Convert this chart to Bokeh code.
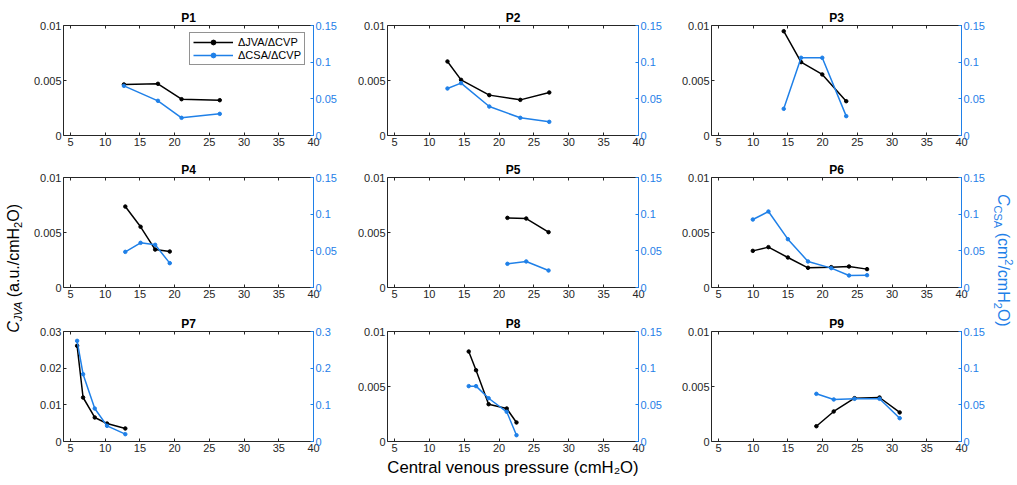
from bokeh.plotting import figure
from bokeh.models import (Range1d, LinearAxis, FixedTicker, CustomJSTickFormatter,
                          CustomLabelingPolicy, Legend, LegendItem, Div)
from bokeh.layouts import row, column
from bokeh.embed import file_html
from bokeh.resources import INLINE

# ---------------- data ----------------
titles = ["P1", "P2", "P3", "P4", "P5", "P6", "P7", "P8", "P9"]

p1_cvp = [12.7, 17.6, 21.0, 26.5]
p1_jva = [0.00464, 0.00470, 0.00330, 0.00321]
p1_csa = [0.0677, 0.0473, 0.0241, 0.0295]

p2_cvp = [12.6, 14.55, 18.6, 23.05, 27.2]
p2_jva = [0.00673, 0.00506, 0.00367, 0.00324, 0.00391]
p2_csa = [0.0641, 0.0714, 0.0395, 0.0241, 0.0186]

p3_cvp = [14.4, 16.9, 19.95, 23.4]
p3_jva = [0.00948, 0.00667, 0.00555, 0.00312]
p3_csa = [0.0364, 0.106, 0.106, 0.0264]

p4_cvp = [12.9, 15.1, 17.2, 19.3]
p4_jva = [0.00736, 0.00552, 0.00345, 0.00327]
p4_csa = [0.0486, 0.0609, 0.0582, 0.0332]

p5_cvp = [21.2, 23.9, 27.1]
p5_jva = [0.00633, 0.00627, 0.00503]
p5_csa = [0.0323, 0.0355, 0.0232]

p6_cvp = [9.95, 12.2, 15.0, 17.9, 21.25, 23.8, 26.4]
p6_jva = [0.00333, 0.00367, 0.00273, 0.00179, 0.00185, 0.00191, 0.00167]
p6_csa = [0.0927, 0.1036, 0.0659, 0.0355, 0.0264, 0.0164, 0.0168]

p7_cvp = [5.96, 6.82, 8.5, 10.27, 12.9]
p7_jva = [0.0261, 0.0120, 0.00655, 0.0049, 0.00355]
p7_csa = [0.2745, 0.1836, 0.090, 0.0427, 0.020]

p8_cvp = [15.65, 16.7, 18.5, 21.1, 22.5]
p8_jva = [0.00818, 0.00648, 0.00339, 0.00300, 0.00173]
p8_csa = [0.0755, 0.0755, 0.059, 0.0405, 0.0086]

p9_cvp = [19.1, 21.6, 24.6, 28.2, 31.1]
p9_jva = [0.00139, 0.00273, 0.00394, 0.00400, 0.00264]
p9_csa = [0.065, 0.0573, 0.0582, 0.0582, 0.0318]

cvp_all = [p1_cvp, p2_cvp, p3_cvp, p4_cvp, p5_cvp, p6_cvp, p7_cvp, p8_cvp, p9_cvp]
jva_all = [p1_jva, p2_jva, p3_jva, p4_jva, p5_jva, p6_jva, p7_jva, p8_jva, p9_jva]
csa_all = [p1_csa, p2_csa, p3_csa, p4_csa, p5_csa, p6_csa, p7_csa, p8_csa, p9_csa]

x_ticks = [5, 10, 15, 20, 25, 30, 35, 40]
left_ticks_std = [0, 0.005, 0.01]
right_ticks_std = [0, 0.05, 0.1, 0.15]
left_ticks_p7 = [0, 0.01, 0.02, 0.03]
right_ticks_p7 = [0, 0.1, 0.2, 0.3]

x_label = "Central venous pressure (cmH\u2082O)"
legend_labels = ["\u0394JVA/\u0394CVP", "\u0394CSA/\u0394CVP"]

# ---------------- style ----------------
FONT = "Liberation Sans"
DARK = "#262626"
BLUE = "#1f80e8"
BLACK = "#000000"

col_border_l = [35, 42, 41]
col_frame_w = [250, 251, 250]
col_border_r = [32, 32, 28]
row_border_t = [25, 22, 24]
row_border_b = [20, 20, 40]
FRAME_H = 110

fmt = CustomJSTickFormatter(code="return tick.toString();")
no_labels = CustomLabelingPolicy(code="return [];")


def style_axis(ax, color, ticks, show_labels=True):
    ax.ticker = FixedTicker(ticks=ticks)
    ax.axis_line_color = color
    ax.major_tick_line_color = color
    ax.minor_tick_line_color = None
    ax.major_tick_in = 3
    ax.major_tick_out = 0
    ax.major_label_text_color = color
    ax.major_label_text_font = FONT
    ax.major_label_text_font_size = "11px"
    ax.major_label_standoff = 2
    if not show_labels:
        ax.major_label_policy = no_labels
        ax.major_label_text_font_size = "0px"
        ax.major_label_standoff = 0


def make_panel(i):
    r, c = divmod(i, 3)
    lt = left_ticks_p7 if i == 6 else left_ticks_std
    rt = right_ticks_p7 if i == 6 else right_ticks_std
    width = col_border_l[c] + col_frame_w[c] + col_border_r[c]
    height = row_border_t[r] + FRAME_H + row_border_b[r]
    p = figure(width=width, height=height,
               x_range=Range1d(4, 40), y_range=Range1d(lt[0], lt[-1]),
               output_backend="svg", toolbar_location=None,
               min_border_left=col_border_l[c], min_border_right=col_border_r[c],
               min_border_top=row_border_t[r], min_border_bottom=row_border_b[r],
               background_fill_color="white", border_fill_color="white")
    p.outline_line_color = None
    p.grid.visible = False
    p.extra_y_ranges = {"r": Range1d(rt[0], rt[-1])}

    p.title.text = titles[i]
    p.title.align = "center"
    p.title.text_font = FONT
    p.title.text_font_size = "12px"
    p.title.text_font_style = "bold"
    p.title.text_color = BLACK
    p.title.standoff = 2

    bottom_axis = p.below[0]
    left_axis = p.left[0]
    style_axis(bottom_axis, DARK, x_ticks)
    style_axis(left_axis, DARK, lt)
    left_axis.formatter = fmt

    ra = LinearAxis(y_range_name="r")
    style_axis(ra, BLUE, rt)
    ra.formatter = fmt
    p.add_layout(ra, "right")

    ta = LinearAxis()
    style_axis(ta, DARK, x_ticks, show_labels=False)
    p.add_layout(ta, "above")

    if i == 7:
        bottom_axis.axis_label = x_label
        bottom_axis.axis_label_text_font = FONT
        bottom_axis.axis_label_text_font_size = "16.7px"
        bottom_axis.axis_label_text_font_style = "normal"
        bottom_axis.axis_label_text_color = BLACK
        bottom_axis.axis_label_standoff = 3

    l1 = p.line(cvp_all[i], jva_all[i], line_color=BLACK, line_width=1.5)
    s1 = p.scatter(cvp_all[i], jva_all[i], marker="circle", size=3.5,
                   fill_color=BLACK, line_color=BLACK)
    l2 = p.line(cvp_all[i], csa_all[i], line_color=BLUE, line_width=1.5, y_range_name="r")
    s2 = p.scatter(cvp_all[i], csa_all[i], marker="circle", size=3.5,
                   fill_color=BLUE, line_color=BLUE, y_range_name="r")

    if i == 0:
        leg = Legend(items=[LegendItem(label=legend_labels[0], renderers=[l1, s1]),
                            LegendItem(label=legend_labels[1], renderers=[l2, s2])],
                     location=(126, 70))
        leg.border_line_color = DARK
        leg.border_line_width = 1
        leg.background_fill_color = "white"
        leg.background_fill_alpha = 1
        leg.padding = 3
        leg.spacing = 1
        leg.margin = 0
        leg.glyph_width = 40
        leg.glyph_height = 12
        leg.label_height = 12
        leg.label_standoff = 5
        leg.label_text_font = FONT
        leg.label_text_font_size = "11px"
        leg.label_text_color = BLACK
        p.add_layout(leg)
    return p


panels = [make_panel(i) for i in range(9)]
grid = column(row(*panels[0:3]), row(*panels[3:6]), row(*panels[6:9]))

TOTAL_H = sum(row_border_t) + 3 * FRAME_H + sum(row_border_b)
left_html = (
    f'<div style="height:{TOTAL_H}px;width:28px;display:flex;align-items:center;'
    'justify-content:flex-end;padding-top:56px;padding-right:1px;box-sizing:border-box;">'
    f'<span style="writing-mode:vertical-rl;transform:rotate(180deg);white-space:nowrap;'
    f'font-family:\'{FONT}\',sans-serif;font-size:16px;color:{BLACK};">'
    '<i>C</i><sub style="font-size:11px;font-style:italic;">JVA</sub> (a.u./cmH'
    '<sub style="font-size:11px;">2</sub>O)</span></div>')
right_html = (
    f'<div style="height:{TOTAL_H}px;width:28px;display:flex;align-items:center;'
    'justify-content:flex-end;padding-top:40px;padding-right:1px;box-sizing:border-box;">'
    f'<span style="writing-mode:vertical-rl;white-space:nowrap;'
    f'font-family:\'{FONT}\',sans-serif;font-size:16px;color:{BLUE};">'
    '<i>C</i><sub style="font-size:11px;">CSA</sub> (cm<sup style="font-size:11px;">2</sup>/cmH'
    '<sub style="font-size:11px;">2</sub>O)</span></div>')

left_div = Div(text=left_html, width=28, height=TOTAL_H, margin=0)
right_div = Div(text=right_html, width=28, height=TOTAL_H, margin=0)

layout = row(left_div, grid, right_div)

with open("out.html", "w") as f:
    f.write(file_html(layout, INLINE))
